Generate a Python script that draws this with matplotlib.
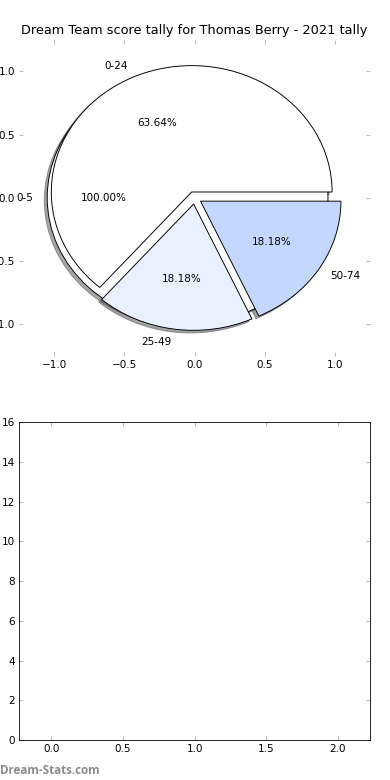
import matplotlib
matplotlib.use("Agg")
import matplotlib.pyplot as plt

title = "Dream Team score tally for Thomas Berry - 2021 tally"

# first (underlying) pie
base_labels = ["0-5"]
base_values = [1]
base_colors = ["#ffffff"]

# main pie
labels = ["0-24", "25-49", "50-74"]
values = [7, 2, 2]
colors = ["#ffffff", "#e9f0ff", "#c4d8ff"]

pie_ticks = [-1.0, -0.5, 0.0, 0.5, 1.0]
bar_yticks = [0, 2, 4, 6, 8, 10, 12, 14, 16]
bar_xticks = [0.0, 0.5, 1.0, 1.5, 2.0]

fig = plt.figure(figsize=(5.2, 10.4), dpi=75)
ax1 = fig.add_axes([0.049, 0.544, 0.9, 0.405])
ax2 = fig.add_axes([0.049, 0.051, 0.9, 0.408])

wp = dict(edgecolor="black", linewidth=0.9)
ax1.pie(base_values, labels=base_labels, colors=base_colors, explode=[0.05],
        shadow=True, autopct="%.2f%%", wedgeprops=wp)
ax1.pie(values, labels=labels, colors=colors, explode=[0.05] * len(values),
        shadow=True, autopct="%.2f%%", wedgeprops=wp)
ax1.set_aspect("auto")
ax1.set_frame_on(False)
ax1.set_xlim(-1.25, 1.25)
ax1.set_ylim(-1.25, 1.25)
ax1.set_xticks(pie_ticks)
ax1.set_yticks(pie_ticks)
ax1.set_title(title, fontsize=12.4)

ax2.set_xlim(-0.225, 2.225)
ax2.set_ylim(bar_yticks[0], bar_yticks[-1])
ax2.set_xticks(bar_xticks)
ax2.set_yticks(bar_yticks)

for ax in (ax1, ax2):
    ax.tick_params(direction="in", length=4, width=1, color="#bbbbbb",
                   top=True, right=True, labelsize=10, pad=4)

fig.text(0.0, 0.0128, "Dream-Stats.com", color="#8c8c8c", fontsize=11.2,
         family="Open Sans", fontweight="bold", ha="left", va="center")

fig.savefig("out.png", dpi=75)
